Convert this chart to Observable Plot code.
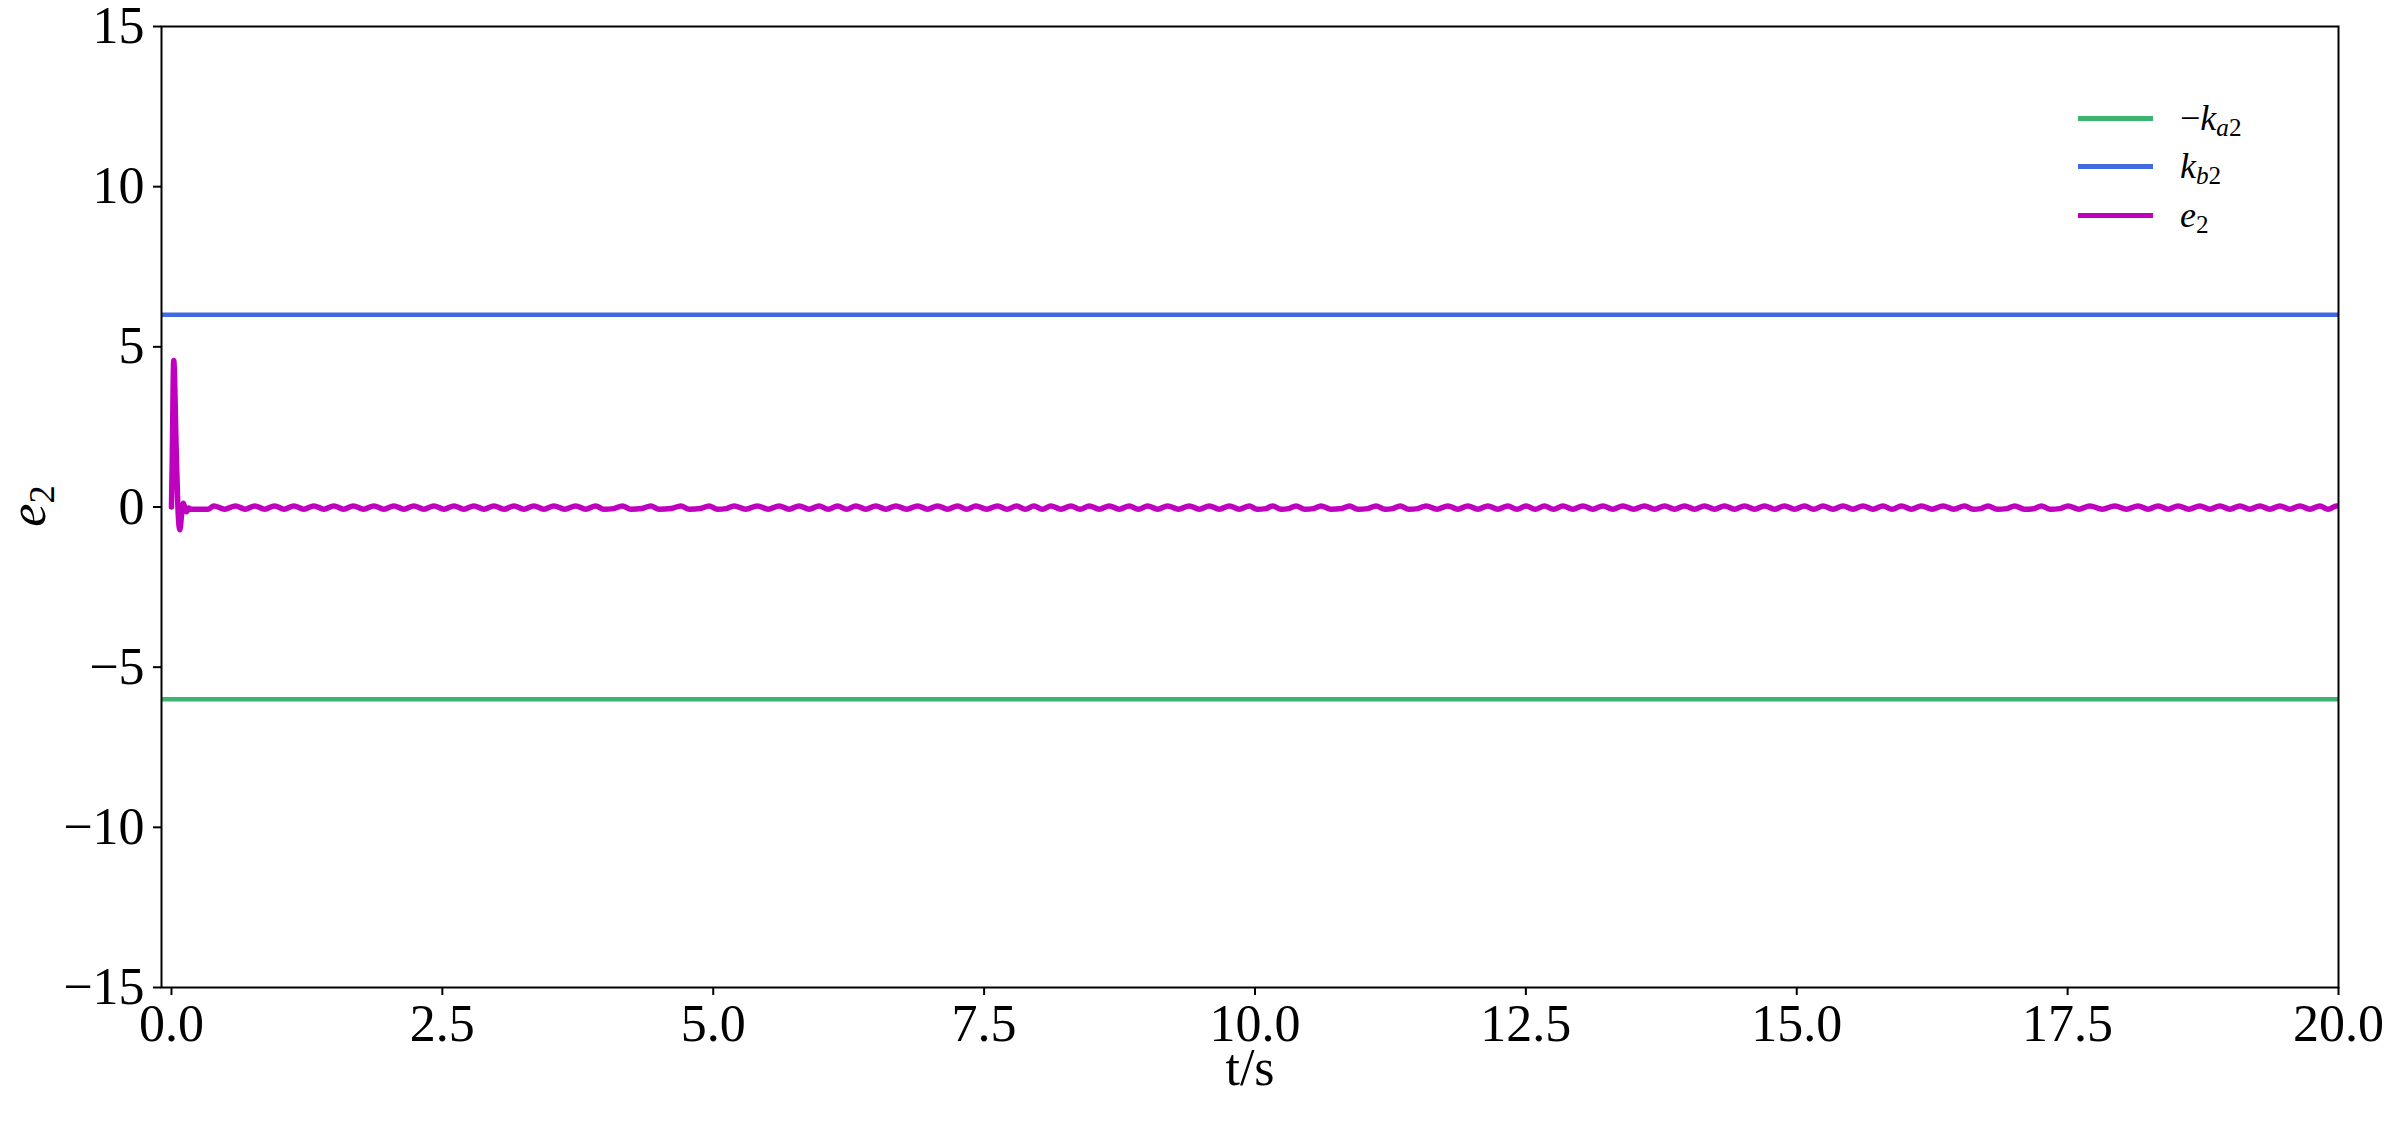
<!DOCTYPE html>
<html>
<head>
<meta charset="utf-8">
<script src="https://cdn.jsdelivr.net/npm/d3@7"></script>
<script src="https://cdn.jsdelivr.net/npm/@observablehq/plot@0.6"></script>
<style>
  html, body { margin: 0; padding: 0; background: #fff; }
  #wrap { position: relative; width: 2390px; height: 1124px; overflow: hidden; background: #fff; }
  .serif { font-family: "Liberation Serif", "DejaVu Serif", serif; color: #000; }
  .leg { position: absolute; left: 2078px; height: 48px; display: flex; align-items: center; }
  .leg .sw { width: 75px; height: 5px; }
  .leg .lab { margin-left: 27px; font-size: 36px; line-height: 1; white-space: nowrap; }
  sub { font-size: 70%; vertical-align: -0.25em; line-height: 0; }
  #ylab { position: absolute; left: 28px; top: 506px; transform: translate(-50%, -50%) rotate(-90deg); font-size: 52px; line-height: 1; white-space: nowrap; }
</style>
</head>
<body>
<div id="wrap" class="serif"></div>
<script>
// ---- data ----
const xTicks = [0, 2.5, 5, 7.5, 10, 12.5, 15, 17.5, 20];
const yTicks = [-15, -10, -5, 0, 5, 10, 15];
const ka2Level = [-6];   // -k_a2
const kb2Level = [6];    //  k_b2
const seriesNames = ["\u2212k_a2", "k_b2", "e_2"];
const seriesColors = ["#3cb371", "#4169e1", "#bf00bf"];
// e2(t): [t, value]
const e2Points = [
  [0, 0.0], [0.006, 1.2], [0.021, 4.57], [0.045, 1.6], [0.062, -0.2], [0.077, -0.71], [0.095, -0.2],
  [0.11, 0.12], [0.125, -0.05], [0.14, -0.15], [0.158, -0.03], [0.18, -0.07], [0.34, -0.07],
  [0.391, 0.035], [0.491, -0.07], [0.591, 0.035], [0.680, -0.07], [0.769, 0.035], [0.860, -0.07],
  [0.951, 0.035], [1.040, -0.07], [1.129, 0.035], [1.222, -0.07], [1.314, 0.035], [1.407, -0.07],
  [1.499, 0.035], [1.589, -0.07], [1.678, 0.035], [1.773, -0.07], [1.868, 0.035], [1.961, -0.07],
  [2.053, 0.035], [2.145, -0.07], [2.237, 0.035], [2.330, -0.07], [2.422, 0.035], [2.515, -0.07],
  [2.607, 0.035], [2.699, -0.07], [2.791, 0.035], [2.884, -0.07], [2.976, 0.035], [3.069, -0.07],
  [3.161, 0.035], [3.253, -0.07], [3.345, 0.035], [3.438, -0.07], [3.530, 0.035], [3.630, -0.07],
  [3.730, 0.035], [3.823, -0.07], [3.915, 0.035], [3.99, -0.07], [4.08, -0.05],
  [4.162, 0.035], [4.24, -0.07], [4.34, -0.05], [4.423, 0.035], [4.50, -0.07], [4.61, -0.05],
  [4.700, 0.035], [4.78, -0.07], [4.88, -0.05], [4.961, 0.035], [5.04, -0.07], [5.12, -0.05],
  [5.192, 0.035], [5.300, -0.07], [5.408, 0.035], [5.508, -0.07], [5.608, 0.035], [5.700, -0.07],
  [5.792, 0.035], [5.885, -0.07], [5.977, 0.035], [6.062, -0.07], [6.147, 0.035], [6.232, -0.07],
  [6.316, 0.035], [6.408, -0.07], [6.500, 0.035], [6.593, -0.07], [6.685, 0.035], [6.786, -0.07],
  [6.886, 0.035], [6.978, -0.07], [7.070, 0.035], [7.163, -0.07], [7.255, 0.035], [7.340, -0.07],
  [7.424, 0.035], [7.524, -0.07], [7.624, 0.035], [7.712, -0.07], [7.800, 0.035], [7.880, -0.07],
  [7.960, 0.035], [8.038, -0.07], [8.116, 0.035], [8.209, -0.07], [8.301, 0.035], [8.386, -0.07],
  [8.470, 0.035], [8.563, -0.07], [8.655, 0.035], [8.747, -0.07], [8.839, 0.035], [8.924, -0.07],
  [9.009, 0.035], [9.102, -0.07], [9.194, 0.035], [9.294, -0.07], [9.393, 0.035], [9.486, -0.07],
  [9.578, 0.035], [9.671, -0.07], [9.763, 0.035], [9.855, -0.07], [9.947, 0.035], [10.02, -0.07],
  [10.10, -0.05], [10.163, 0.035], [10.24, -0.07], [10.31, -0.05], [10.379, 0.035], [10.46, -0.07],
  [10.54, -0.05], [10.609, 0.035], [10.70, -0.07], [10.80, -0.05], [10.871, 0.035], [10.95, -0.07],
  [11.04, -0.05], [11.117, 0.035], [11.20, -0.07], [11.27, -0.05], [11.34, 0.035], [11.42, -0.07],
  [11.50, -0.05], [11.579, 0.035], [11.680, -0.07], [11.780, 0.035], [11.872, -0.07], [11.964, 0.035],
  [12.057, -0.07], [12.149, 0.035], [12.241, -0.07], [12.333, 0.035], [12.418, -0.07], [12.502, 0.035],
  [12.587, -0.07], [12.671, 0.035], [12.756, -0.07], [12.841, 0.035], [12.934, -0.07], [13.026, 0.035],
  [13.118, -0.07], [13.210, 0.035], [13.303, -0.07], [13.395, 0.035], [13.495, -0.07], [13.595, 0.035],
  [13.688, -0.07], [13.780, 0.035], [13.872, -0.07], [13.964, 0.035], [14.057, -0.07], [14.149, 0.035],
  [14.241, -0.07], [14.333, 0.035], [14.426, -0.07], [14.518, 0.035], [14.611, -0.07], [14.703, 0.035],
  [14.795, -0.07], [14.887, 0.035], [14.980, -0.07], [15.072, 0.035], [15.157, -0.07], [15.242, 0.035],
  [15.335, -0.07], [15.427, 0.035], [15.519, -0.07], [15.611, 0.035], [15.704, -0.07], [15.796, 0.035],
  [15.881, -0.07], [15.965, 0.035], [16.058, -0.07], [16.150, 0.035], [16.250, -0.07], [16.350, 0.035],
  [16.450, -0.07], [16.549, 0.035], [16.63, -0.07], [16.70, -0.05], [16.765, 0.035], [16.85, -0.07],
  [16.94, -0.05], [17.011, 0.035], [17.10, -0.07], [17.19, -0.05], [17.258, 0.035], [17.34, -0.07],
  [17.43, -0.05], [17.504, 0.035], [17.604, -0.07], [17.704, 0.035], [17.820, -0.07], [17.935, 0.035],
  [18.043, -0.07], [18.150, 0.035], [18.243, -0.07], [18.335, 0.035], [18.428, -0.07], [18.520, 0.035],
  [18.620, -0.07], [18.719, 0.035], [18.812, -0.07], [18.904, 0.035], [18.997, -0.07], [19.089, 0.035],
  [19.181, -0.07], [19.273, 0.035], [19.366, -0.07], [19.458, 0.035], [19.551, -0.07], [19.643, 0.035],
  [19.735, -0.07], [19.827, 0.035], [19.905, -0.07], [19.982, 0.035], [20.0, 0.03]
];

// ---- chart ----
const chart = Plot.plot({
  width: 2390,
  height: 1124,
  marginLeft: 161,
  marginRight: 52,
  marginTop: 26,
  marginBottom: 137,
  style: { fontFamily: "'Liberation Serif', 'DejaVu Serif', serif", fontSize: "52px", color: "#000", background: "#fff", overflow: "visible" },
  x: { domain: [-0.092, 20] },
  y: { domain: [-15, 15] },
  marks: [
    Plot.ruleY(ka2Level, { stroke: seriesColors[0], strokeWidth: 4.5 }),
    Plot.ruleY(kb2Level, { stroke: seriesColors[1], strokeWidth: 4.5 }),
    Plot.line(e2Points, { x: d => d[0], y: d => d[1], stroke: seriesColors[2], strokeWidth: 5.5, curve: "monotone-x", clip: true }),
    Plot.frame({ stroke: "#000", strokeWidth: 2 }),
    Plot.axisX({ ticks: xTicks, tickFormat: d3.format(".1f"), tickSize: 8, tickPadding: 9, strokeWidth: 2,
                 label: "t/s", labelAnchor: "center", labelArrow: "none", labelOffset: 97 }),
    Plot.axisY({ ticks: yTicks, tickSize: 8, tickPadding: 9, strokeWidth: 2, label: null })
  ]
});
const wrap = document.getElementById("wrap");
wrap.appendChild(chart);

// y label (rotated, with subscript)
const ylab = document.createElement("div");
ylab.id = "ylab";
ylab.innerHTML = "<i>e</i><sub>2</sub>";
wrap.appendChild(ylab);

// legend (inside the axes, top right)
const legendTops = [94, 142, 191];
const legendHTML = [
  "\u2212<i>k</i><sub><i>a</i>2</sub>",
  "<i>k</i><sub><i>b</i>2</sub>",
  "<i>e</i><sub>2</sub>"
];
seriesNames.forEach((name, i) => {
  const row = document.createElement("div");
  row.className = "leg";
  row.style.top = legendTops[i] + "px";
  row.innerHTML = `<div class="sw" style="background:${seriesColors[i]}"></div><div class="lab">${legendHTML[i]}</div>`;
  wrap.appendChild(row);
});
</script>
</body>
</html>
